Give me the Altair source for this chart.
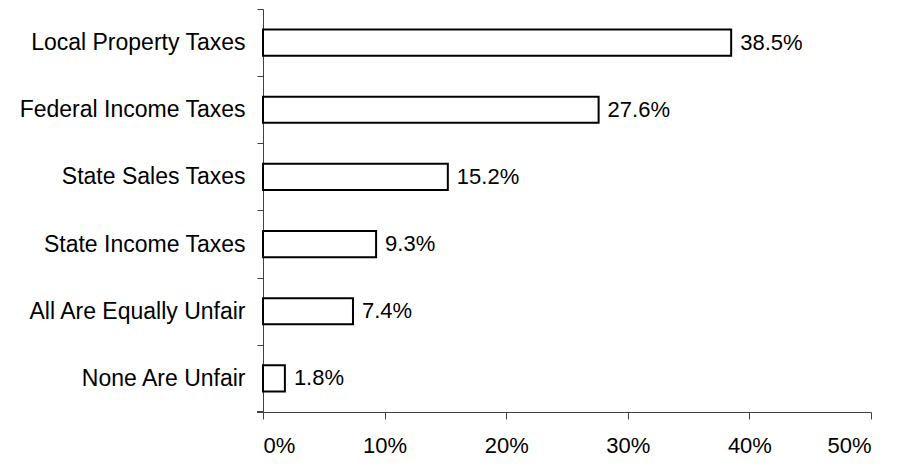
import altair as alt
import pandas as pd

categories = ["Local Property Taxes", "Federal Income Taxes", "State Sales Taxes",
              "State Income Taxes", "All Are Equally Unfair", "None Are Unfair"]
values = [0.385, 0.276, 0.152, 0.093, 0.074, 0.018]
labels = ["38.5%", "27.6%", "15.2%", "9.3%", "7.4%", "1.8%"]
x_ticks = [0, 0.1, 0.2, 0.3, 0.4, 0.5]

df = pd.DataFrame({"cat": categories, "val": values, "lab": labels})

FONT = "Liberation Sans"
AX = "#404040"
W, H = 608, 403
STEP = H / len(categories)

y_enc = alt.Y("cat:N", sort=categories, title=None,
              scale=alt.Scale(paddingInner=0.61, paddingOuter=0.305),
              axis=alt.Axis(tickOffset=-STEP / 2, labelOffset=STEP / 2,
                            labelFont=FONT, labelFontSize=23, labelLimit=400,
                            labelColor="black", labelPadding=12, tickSize=6,
                            domainColor=AX, tickColor=AX,
                            domainWidth=1, tickWidth=1))
x_enc = alt.X("val:Q", title=None,
              scale=alt.Scale(domain=[0, 0.5], nice=False),
              axis=alt.Axis(values=x_ticks, format=".0%", grid=False,
                            labelFont=FONT, labelFontSize=22, labelColor="black",
                            labelBaseline="alphabetic", labelPadding=33, tickSize=7,
                            domainColor=AX, tickColor=AX,
                            domainWidth=1, tickWidth=1))

bars = alt.Chart(df).mark_bar(fill="white", stroke="black", strokeWidth=2).encode(
    x=x_enc, y=y_enc)

text = alt.Chart(df).mark_text(align="left", baseline="middle", dx=9,
                               font=FONT, fontSize=22, color="black").encode(
    x=alt.X("val:Q"), y=alt.Y("cat:N", sort=categories), text="lab:N")

bottom_tick = alt.Chart(df).mark_rule(color=AX, strokeWidth=1).encode(
    x=alt.value(-6), x2=alt.value(0), y=alt.value(H))

chart = (bars + text + bottom_tick).properties(
    width=W, height=H,
    autosize=alt.AutoSizeParams(type="none"),
    padding={"left": 255, "top": 1, "right": 21, "bottom": 46},
).configure(background="white").configure_view(stroke=None)

chart.save("out.html", embed_options={"renderer": "svg", "actions": False})
